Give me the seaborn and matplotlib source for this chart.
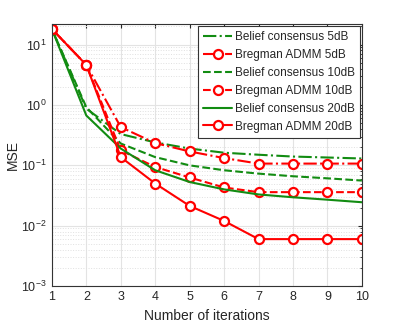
import numpy as np
import pandas as pd
import matplotlib
matplotlib.use("Agg")
import matplotlib.pyplot as plt
import seaborn as sns
from matplotlib.ticker import LogLocator, NullFormatter

iterations = [1, 2, 3, 4, 5, 6, 7, 8, 9, 10]

belief_5db = [18.2, 0.87, 0.33, 0.24, 0.19, 0.162, 0.15, 0.14, 0.135, 0.13]
bregman_5db = [18.2, 4.6, 0.43, 0.234, 0.17, 0.132, 0.107, 0.107, 0.107, 0.107]
belief_10db = [18.2, 0.92, 0.23, 0.137, 0.10, 0.083, 0.073, 0.066, 0.061, 0.056]
bregman_10db = [18.2, 4.6, 0.177, 0.094, 0.063, 0.043, 0.036, 0.036, 0.036, 0.036]
belief_20db = [18.2, 0.67, 0.19, 0.083, 0.053, 0.040, 0.033, 0.0296, 0.027, 0.0245]
bregman_20db = [18.2, 4.6, 0.137, 0.050, 0.0213, 0.012, 0.006, 0.006, 0.006, 0.006]

series = [
    ("Belief consensus 5dB", belief_5db, "#128c12", "-.", None),
    ("Bregman ADMM 5dB", bregman_5db, "#ff0000", "-.", "o"),
    ("Belief consensus 10dB", belief_10db, "#128c12", "--", None),
    ("Bregman ADMM 10dB", bregman_10db, "#ff0000", "--", "o"),
    ("Belief consensus 20dB", belief_20db, "#128c12", "-", None),
    ("Bregman ADMM 20dB", bregman_20db, "#ff0000", "-", "o"),
]

sns.set_style("white")
plt.rcParams["font.family"] = ["Liberation Sans", "DejaVu Sans"]

fig, ax = plt.subplots(figsize=(3.99, 3.24), dpi=100)
fig.subplots_adjust(left=0.13, right=0.907, top=0.926, bottom=0.117)

for name, vals, color, ls, marker in series:
    df = pd.DataFrame({"iter": iterations, "mse": vals})
    sns.lineplot(data=df, x="iter", y="mse", ax=ax, color=color, linestyle=ls,
                 marker=marker, markersize=6.5 if marker else 0,
                 markerfacecolor="white", markeredgecolor=color, markeredgewidth=1.6,
                 linewidth=1.5, label=name)

ax.set_yscale("log")
ax.set_xlim(1, 10)
ax.set_ylim(1e-3, 22)
ax.set_xticks(iterations)
ax.yaxis.set_major_locator(LogLocator(base=10, numticks=10))
ax.yaxis.set_minor_locator(LogLocator(base=10, subs=np.arange(2, 10), numticks=50))
ax.yaxis.set_minor_formatter(NullFormatter())

ax.grid(True, which="major", color="#e3e3e3", linewidth=0.8)
ax.grid(True, which="minor", axis="y", color="#e0e0e0", linestyle=":", linewidth=0.7)
ax.set_axisbelow(True)

for s in ax.spines.values():
    s.set_color("#333333")
    s.set_linewidth(0.8)
ax.tick_params(which="both", direction="in", top=True, right=True, labelsize=9,
               colors="#262626", length=3)
ax.tick_params(which="minor", length=1.8)

ax.set_xlabel("Number of iterations", fontsize=10, color="#262626")
ax.set_ylabel("MSE", fontsize=10, color="#262626", labelpad=1)

leg = ax.legend(loc="upper right", fontsize=8.5, frameon=True, fancybox=False,
                borderpad=0.45, labelspacing=0.5, handlelength=2.5, handletextpad=0.2,
                borderaxespad=0.15)
leg.get_frame().set_edgecolor("#333333")
leg.get_frame().set_linewidth(0.8)
leg.get_frame().set_alpha(1)

fig.savefig("out.png", dpi=100)
